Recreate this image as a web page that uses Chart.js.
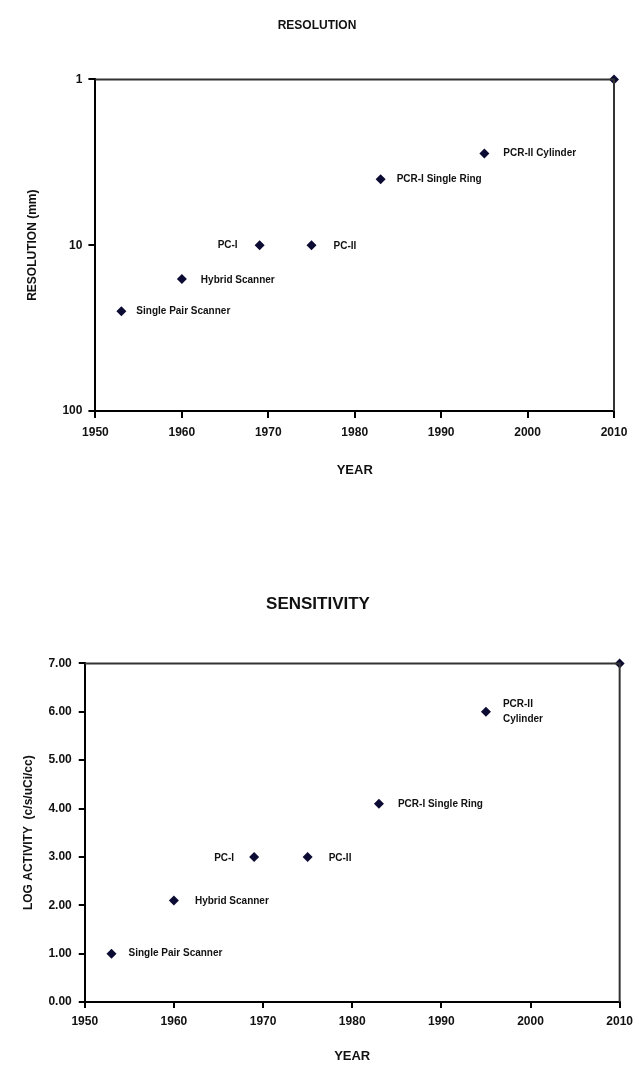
<!DOCTYPE html>
<html>
<head>
<meta charset="utf-8">
<script src="https://cdn.jsdelivr.net/npm/chart.js@4.4.1/dist/chart.umd.min.js"></script>
<style>
  html, body { margin: 0; padding: 0; background: #fff; }
  body { width: 639px; height: 1069px; position: relative; overflow: hidden; }
  canvas { position: absolute; left: 0; }
  #c1 { top: 0; }
  #c2 { top: 560px; }
</style>
</head>
<body>
<canvas id="c1" width="639" height="500"></canvas>
<canvas id="c2" width="639" height="509"></canvas>
<script>
// ---- data ----
const years = [1953, 1960, 1969, 1975, 1983, 1995, 2010];
const resolutionNames = ['Single Pair Scanner', 'Hybrid Scanner', 'PC-I', 'PC-II', 'PCR-I Single Ring', 'PCR-II Cylinder', ''];
const sensitivityNames = ['Single Pair Scanner', 'Hybrid Scanner', 'PC-I', 'PC-II', 'PCR-I Single Ring', 'PCR-II\nCylinder', ''];
const resolutionMm = [25, 16, 10, 10, 4, 2.8, 1];
const logActivity = [1.0, 2.1, 3.0, 3.0, 4.1, 6.0, 7.0];
const yearTicks = [1950, 1960, 1970, 1980, 1990, 2000, 2010];
const resolutionTicks = [1, 10, 100];
const sensitivityTicks = [0, 1, 2, 3, 4, 5, 6, 7];

const FONT = "'Liberation Sans', Arial, sans-serif";
const INK = '#111';
const MARK = '#0b0b33';

const framePlugin = {
  id: 'frame',
  afterDatasetsDraw(chart) {
    const { ctx, chartArea: a } = chart;
    ctx.save();
    ctx.strokeStyle = '#333';
    ctx.lineWidth = 2;
    ctx.beginPath();
    ctx.moveTo(a.left, a.top);
    ctx.lineTo(a.right, a.top);
    ctx.lineTo(a.right, a.bottom);
    ctx.stroke();
    ctx.restore();
  }
};

const labelPlugin = {
  id: 'pointNames',
  afterDatasetsDraw(chart, args, opts) {
    const { ctx } = chart;
    const meta = chart.getDatasetMeta(0);
    ctx.save();
    ctx.font = 'bold ' + opts.size + 'px ' + FONT;
    ctx.fillStyle = INK;
    ctx.textBaseline = 'middle';
    opts.names.forEach((name, i) => {
      if (!name) return;
      const p = meta.data[i];
      const place = opts.place[i];
      ctx.textAlign = place.dx < 0 ? 'right' : 'left';
      const lines = name.split('\n');
      const lh = opts.size + 5;
      const y0 = p.y + (place.dy || 0) - (lines.length - 1) * lh / 2;
      lines.forEach((ln, k) => ctx.fillText(ln, p.x + place.dx, y0 + k * lh));
    });
    ctx.restore();
  }
};

function fixedTicks(values) {
  return function (scale) { scale.ticks = values.map(v => ({ value: v })); };
}

function axisCommon(extra) {
  return Object.assign({
    grid: { drawOnChartArea: false, drawTicks: true, tickLength: 7, color: '#000', lineWidth: 2 },
    border: { display: true, color: '#000', width: 2 },
  }, extra);
}

// ---- RESOLUTION ----
new Chart(document.getElementById('c1'), {
  type: 'scatter',
  data: {
    datasets: [{
      data: years.map((x, i) => ({ x: x, y: resolutionMm[i] })),
      pointStyle: 'rectRot',
      pointRadius: 5,
      backgroundColor: MARK,
      borderColor: MARK,
      borderWidth: 0,
      clip: false
    }]
  },
  options: {
    responsive: false,
    animation: false,
    layout: { padding: { left: 20, right: 25, top: 0, bottom: 22 } },
    plugins: {
      legend: { display: false },
      tooltip: { enabled: false },
      title: {
        display: true, text: 'RESOLUTION', color: INK,
        font: { family: FONT, size: 12, weight: 'bold' },
        padding: { top: 18, bottom: 47 }
      },
      pointNames: {
        size: 10,
        names: resolutionNames,
        place: [{ dx: 15 }, { dx: 19, dy: 1 }, { dx: -22 }, { dx: 22, dy: 1 }, { dx: 16 }, { dx: 19 }, { dx: 0 }]
      }
    },
    scales: {
      x: axisCommon({
        type: 'linear', min: 1950, max: 2010,
        afterBuildTicks: fixedTicks(yearTicks),
        ticks: { color: INK, padding: 7, maxRotation: 0, font: { family: FONT, size: 12, weight: 'bold' }, callback: v => String(v) },
        title: { display: true, text: 'YEAR', color: INK, font: { family: FONT, size: 13, weight: 'bold' }, padding: { top: 16, bottom: 0 } }
      }),
      y: axisCommon({
        type: 'logarithmic', reverse: true, min: 1, max: 100,
        afterBuildTicks: fixedTicks(resolutionTicks),
        ticks: { color: INK, padding: 6, font: { family: FONT, size: 12, weight: 'bold' }, callback: v => String(v) },
        title: { display: true, text: 'RESOLUTION (mm)', color: INK, font: { family: FONT, size: 12, weight: 'bold' }, padding: { top: 5, bottom: 17 } }
      })
    }
  },
  plugins: [framePlugin, labelPlugin]
});

// ---- SENSITIVITY ----
new Chart(document.getElementById('c2'), {
  type: 'scatter',
  data: {
    datasets: [{
      data: years.map((x, i) => ({ x: x, y: logActivity[i] })),
      pointStyle: 'rectRot',
      pointRadius: 5,
      backgroundColor: MARK,
      borderColor: MARK,
      borderWidth: 0,
      clip: false
    }]
  },
  options: {
    responsive: false,
    animation: false,
    layout: { padding: { left: 16, right: 19, top: 0, bottom: 5 } },
    plugins: {
      legend: { display: false },
      tooltip: { enabled: false },
      title: {
        display: true, text: 'SENSITIVITY', color: INK,
        font: { family: FONT, size: 17, weight: 'bold' },
        padding: { top: 34, bottom: 49 }
      },
      pointNames: {
        size: 10,
        names: sensitivityNames,
        place: [{ dx: 17 }, { dx: 21, dy: 1 }, { dx: -20, dy: 1 }, { dx: 21, dy: 1 }, { dx: 19, dy: 1 }, { dx: 17 }, { dx: 0 }]
      }
    },
    scales: {
      x: axisCommon({
        type: 'linear', min: 1950, max: 2010,
        afterBuildTicks: fixedTicks(yearTicks),
        grid: { drawOnChartArea: false, drawTicks: true, tickLength: 6, color: '#000', lineWidth: 2 },
        ticks: { color: INK, padding: 6, maxRotation: 0, font: { family: FONT, size: 12, weight: 'bold' }, callback: v => String(v) },
        title: { display: true, text: 'YEAR', color: INK, font: { family: FONT, size: 13, weight: 'bold' }, padding: { top: 14, bottom: 0 } }
      }),
      y: axisCommon({
        type: 'linear', min: 0, max: 7,
        afterBuildTicks: fixedTicks(sensitivityTicks),
        grid: { drawOnChartArea: false, drawTicks: true, tickLength: 6, color: '#000', lineWidth: 2 },
        ticks: { color: INK, padding: 7, font: { family: FONT, size: 12, weight: 'bold' }, callback: v => Number(v).toFixed(2) },
        title: { display: true, text: 'LOG ACTIVITY  (c/s/uCi/cc)', color: INK, font: { family: FONT, size: 12, weight: 'bold' }, padding: { top: 5, bottom: 6 } }
      })
    }
  },
  plugins: [framePlugin, labelPlugin]
});
</script>
</body>
</html>
